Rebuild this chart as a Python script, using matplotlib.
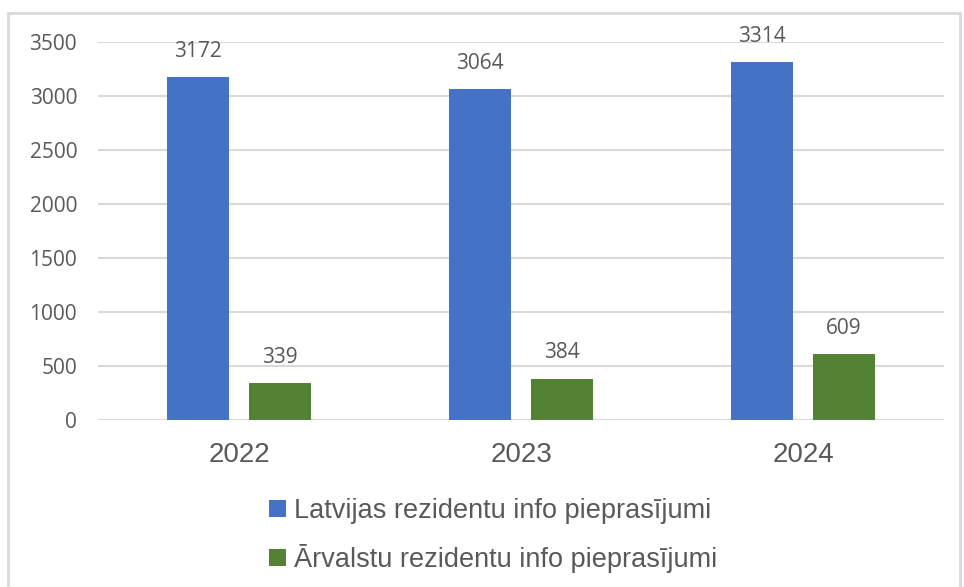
import matplotlib.pyplot as plt
import numpy as np
from matplotlib.patches import Rectangle

years = ['2022', '2023', '2024']
latvijas = [3172, 3064, 3314]
arvalstu = [339, 384, 609]
series_names = ['Latvijas rezidentu info pieprasījumi',
                'Ārvalstu rezidentu info pieprasījumi']

text_color = '#595959'

fig = plt.figure(figsize=(9.64, 5.87), dpi=100)
# light frame round the chart, like the spreadsheet export
fig.patches.append(Rectangle((8 / 964, -0.05), 952 / 964, 1.05 - 13 / 587,
                             transform=fig.transFigure, fill=False,
                             edgecolor='#D9D9D9', linewidth=2))

ax = fig.add_axes([98 / 964, 1 - 420 / 587, 846 / 964, 378 / 587])

index = np.arange(len(years))
bar_width = 0.22
offset = 0.145

bars1 = ax.bar(index - offset, latvijas, bar_width, color='#4472C4',
               label=series_names[0], zorder=3)
bars2 = ax.bar(index + offset, arvalstu, bar_width, color='#548235',
               label=series_names[1], zorder=3)

for bars in (bars1, bars2):
    for b in bars:
        ax.annotate(str(int(b.get_height())),
                    (b.get_x() + b.get_width() / 2, b.get_height()),
                    xytext=(0, 11), textcoords='offset points',
                    ha='center', va='bottom', fontsize=15,
                    family='Open Sans', color=text_color)

ax.set_xlim(-0.5, 2.5)
ax.set_ylim(0, 3500)
ax.set_yticks(np.arange(0, 3501, 500))
ax.yaxis.grid(True, color='#D9D9D9', linewidth=1.5, zorder=0)
ax.set_axisbelow(True)
for s in ax.spines.values():
    s.set_visible(False)

ax.set_xticks(index)
ax.set_xticklabels(years, fontsize=20, family='Liberation Sans', color=text_color)
ax.tick_params(axis='x', length=0, pad=16)
ax.tick_params(axis='y', length=0, pad=15, labelsize=15, labelcolor=text_color)
for lab in ax.get_yticklabels():
    lab.set_family('Open Sans')

fig.legend(loc='upper left', bbox_to_anchor=(245 / 964, 1 - 474 / 587),
           frameon=False, prop={'family': 'Liberation Sans', 'size': 19.5},
           labelcolor=text_color, handlelength=0.6, handleheight=0.6,
           handletextpad=0.3, labelspacing=0.72)

fig.savefig('out.png', dpi=100)
